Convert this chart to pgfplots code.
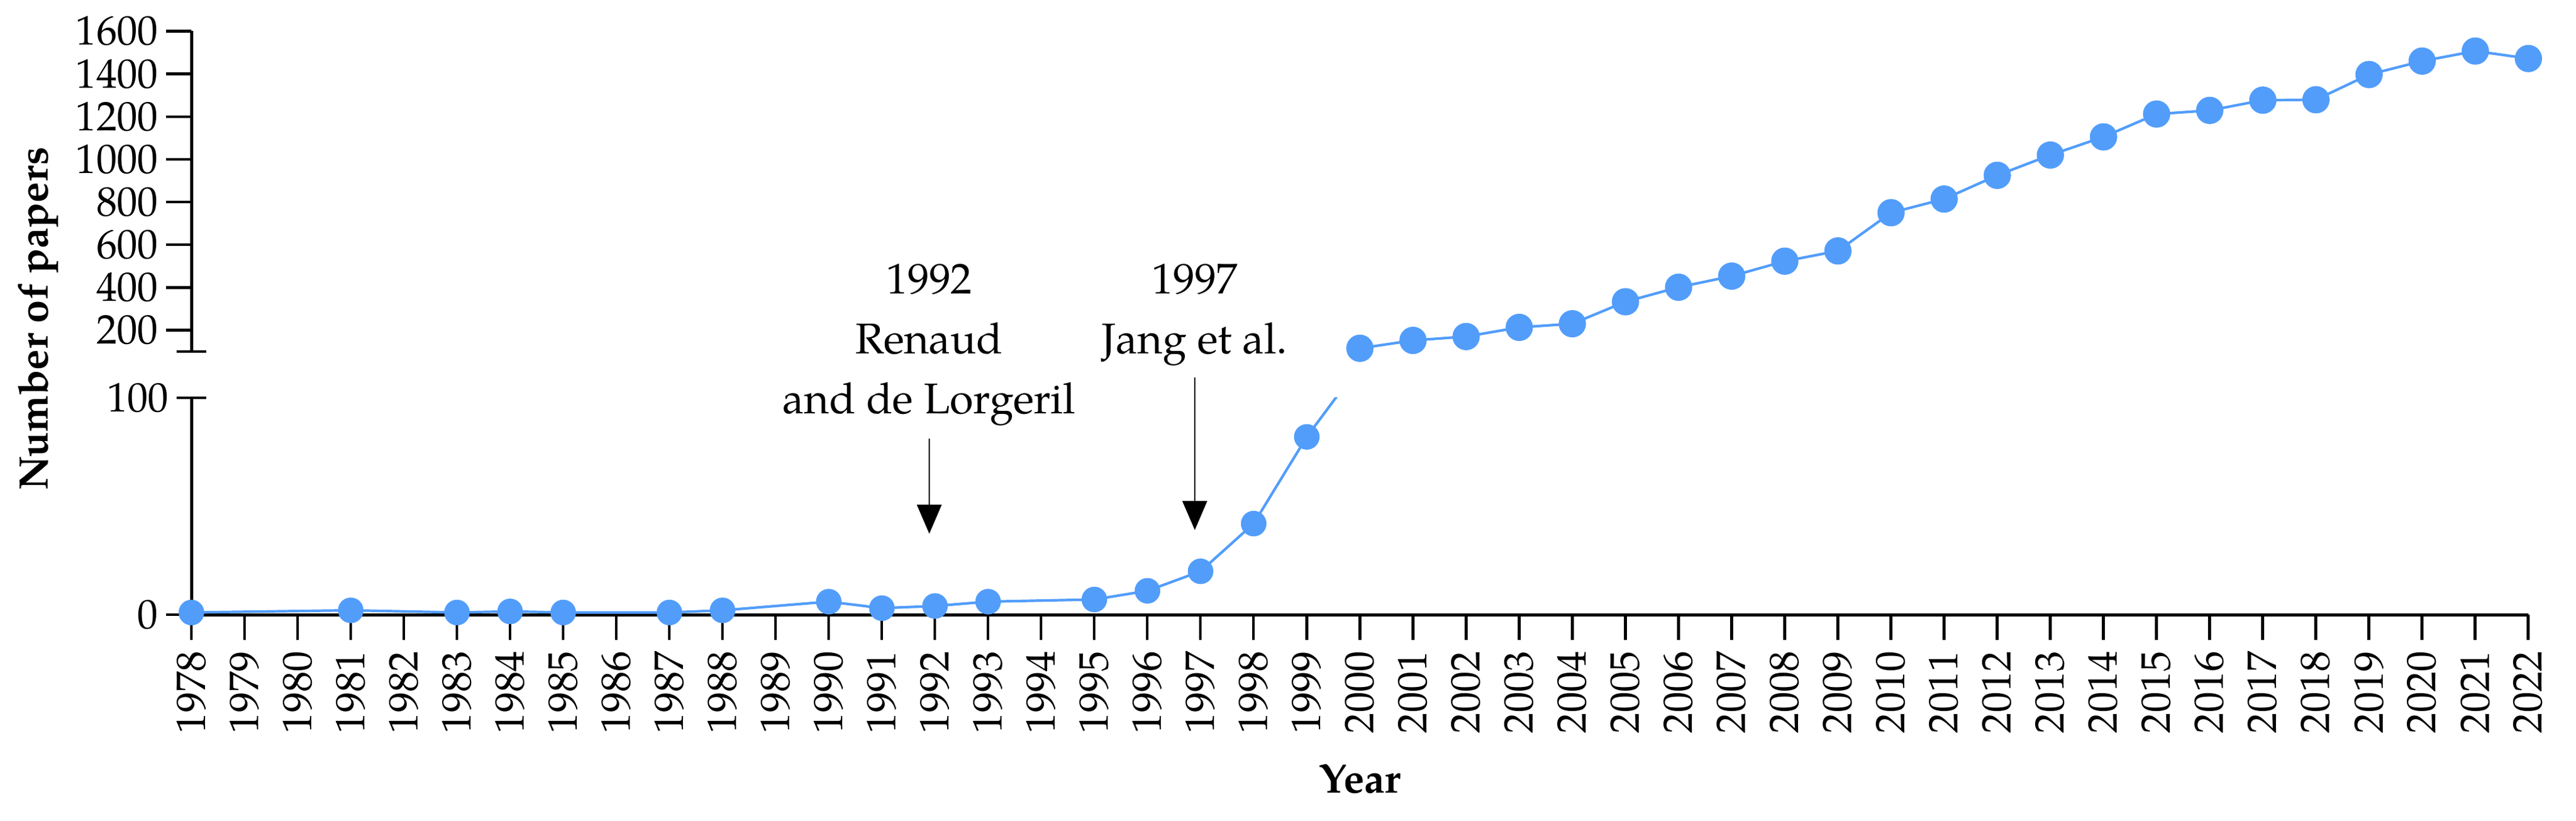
\documentclass[border=0pt]{standalone}
\usepackage{fontspec}
\setmainfont{TeX Gyre Pagella}
\usepackage{pgfplots}
\pgfplotsset{compat=1.18}
\usetikzlibrary{arrows.meta}
\definecolor{pblue}{RGB}{82,157,250}
\newcommand\fs{\fontsize{19}{23}\selectfont}
\newcommand\fa{\fontsize{19.8}{23}\selectfont}
\begin{document}
\begin{tikzpicture}
\useasboundingbox (-31mm,-33.3mm) rectangle (386.2mm,99.5mm);
\pgfplotsset{
  common/.style={
    scale only axis, width=378.5mm, xmin=1978, xmax=2022,
    /pgf/number format/assume math mode=true,
    /pgf/number format/1000 sep={},
    tick label style={font=\fs, inner sep=0pt},
    axis line style={line width=0.5mm, -},
    major tick style={line width=0.45mm, black},
    major tick length=4.1mm,
    tick align=outside,
    clip mode=individual,
  }
}
\begin{axis}[common, at={(0,0)}, anchor=south west, height=35.1mm, ymin=0, ymax=100,
  axis x line*=bottom, axis y line*=left,
  xtick={1978,1979,...,2022}, ytick={0},
  extra y ticks={100}, extra y tick style={tick align=center, major tick length=4.8mm},
  xticklabel style={rotate=90, anchor=east},
  xticklabel shift=1.7mm, yticklabel shift=1.2mm,
]
\addplot[pblue, line width=0.42mm, no marks] coordinates {
(1978,1) (1981,2) (1983,1) (1984,1.5) (1985,1) (1987,1) (1988,2) (1990,6) (1991,3) (1992,4) (1993,6) (1995,7) (1996,11) (1997,20) (1998,42) (1999,82) (2000,115)};
\addplot[pblue, only marks, mark=*, mark size=2mm, mark options={fill=pblue, draw=none}] coordinates {
(1978,1) (1981,2) (1983,1) (1984,1.5) (1985,1) (1987,1) (1988,2) (1990,6) (1991,3) (1992,4) (1993,6) (1995,7) (1996,11) (1997,20) (1998,42) (1999,82)};
\end{axis}
\begin{axis}[common, at={(0,42.6mm)}, anchor=south west, height=51.85mm, ymin=100, ymax=1600,
  axis x line=none, axis y line*=left,
  ytick={200,400,...,1600}, extra y ticks={100}, extra y tick labels={},
  extra y tick style={tick align=center, major tick length=4.8mm},
  yticklabel shift=1.2mm,
]
\addplot[pblue, line width=0.42mm, mark=*, mark size=2mm, mark options={fill=pblue, draw=none}] coordinates {
(2000,115) (2001,152) (2002,170) (2003,213) (2004,230) (2005,333) (2006,401) (2007,453) (2008,523) (2009,571) (2010,750) (2011,814) (2012,925) (2013,1020) (2014,1105) (2015,1212) (2016,1229) (2017,1277) (2018,1279) (2019,1397) (2020,1460) (2021,1507) (2022,1472)};
\end{axis}
\node[rotate=90, anchor=base, font=\bfseries\fs] at (-23.2mm,47.9mm) {Number of papers};
\node[anchor=base, font=\bfseries\fs] at (189.25mm,-28.8mm) {Year};
\node[anchor=base, font=\fa] at (119.5mm,51.9mm) {1992};
\node[anchor=base, font=\fa] at (119.5mm,42.2mm) {Renaud};
\node[anchor=base, font=\fa] at (119.5mm,32.5mm) {and de Lorgeril};
\node[anchor=base, font=\fa] at (162.5mm,51.9mm) {1997};
\node[anchor=base, font=\fa] at (162.5mm,42.2mm) {Jang et al.};
\draw[line width=0.2mm, -{Triangle[width=4mm,length=4.7mm]}] (119.5mm,28.5mm) -- (119.5mm,13.1mm);
\draw[line width=0.2mm, -{Triangle[width=4mm,length=4.7mm]}] (162.5mm,38.4mm) -- (162.5mm,13.7mm);
\end{tikzpicture}
\end{document}
